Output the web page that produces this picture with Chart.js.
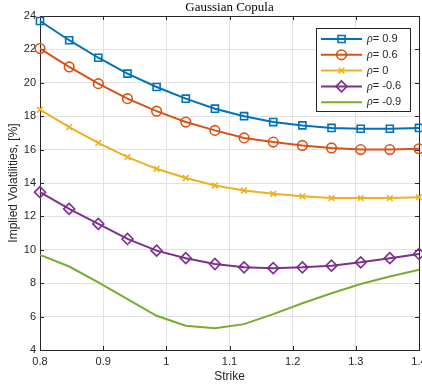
<!DOCTYPE html>
<html>
<head>
<meta charset="utf-8">
<script src="https://cdn.jsdelivr.net/npm/chart.js@4.4.0/dist/chart.umd.min.js"></script>
<style>
  html, body { margin: 0; padding: 0; background: #fff; overflow: hidden; }
</style>
</head>
<body>
<!-- canvas is a bit wider than the window so the last x label gets cut like in the original -->
<canvas id="chart" width="432" height="387"></canvas>
<script>
// strikes (x) and implied vols in % for each correlation
const strikes = [0.8, 0.8462, 0.8923, 0.9385, 0.9846, 1.0308, 1.0769, 1.1231, 1.1692, 1.2154, 1.2615, 1.3077, 1.3538, 1.4];
const volRho09  = [23.7, 22.55, 21.5, 20.55, 19.75, 19.05, 18.45, 18.0, 17.65, 17.45, 17.3, 17.25, 17.25, 17.3];
const volRho06  = [22.05, 20.95, 19.95, 19.05, 18.3, 17.65, 17.15, 16.7, 16.45, 16.25, 16.1, 16.0, 16.0, 16.05];
const volRho0   = [18.4, 17.35, 16.4, 15.55, 14.85, 14.3, 13.85, 13.55, 13.35, 13.2, 13.1, 13.1, 13.1, 13.15];
const volRhoM06 = [13.45, 12.45, 11.55, 10.65, 9.95, 9.5, 9.15, 8.95, 8.9, 8.95, 9.05, 9.25, 9.5, 9.75];
const volRhoM09 = [9.7, 9.0, 8.05, 7.05, 6.05, 5.45, 5.3, 5.55, 6.15, 6.8, 7.4, 7.95, 8.4, 8.8];
const rhoLabels = ['0.9', '0.6', '0', '-0.6', '-0.9'];
const xTicks = [0.8, 0.9, 1.0, 1.1, 1.2, 1.3, 1.4];
const yTicks = [4, 6, 8, 10, 12, 14, 16, 18, 20, 22, 24];

const series = [volRho09, volRho06, volRho0, volRhoM06, volRhoM09];
const colors = ['#0072BD', '#D95319', '#EDB120', '#7E2F8E', '#77AC30'];
const markers = ['rect', 'circle', 'crossRot', 'rectRot', false];
const markerSize = [5, 4.8, 4, 5.5, 0];
const axisColor = '#262626';
const gridColor = '#e1e1e1';
const sans = '"Liberation Sans", Arial, sans-serif';

const datasets = series.map((vals, i) => ({
    label: 'ρ= ' + rhoLabels[i],
    data: vals.map((v, k) => ({ x: strikes[k], y: v })),
    borderColor: colors[i],
    backgroundColor: 'rgba(255,255,255,0)',
    borderWidth: 2,
    pointStyle: markers[i] || 'circle',
    pointRadius: markerSize[i],
    pointBorderWidth: 1.6,
    pointBorderColor: colors[i],
    pointBackgroundColor: 'rgba(255,255,255,0)',
    tension: 0,
    clip: false
}));

const fmt = v => String(Number(v.toFixed(2)));

// box with inside ticks on all four sides, like matlab "box on"
const axesBox = {
    id: 'axesBox',
    beforeDatasetsDraw(chart) {
        const { ctx, chartArea: a, scales } = chart;
        ctx.save();
        ctx.strokeStyle = axisColor;
        ctx.lineWidth = 1;
        ctx.beginPath();
        xTicks.forEach(t => {
            const px = Math.round(scales.x.getPixelForValue(t)) + 0.5;
            ctx.moveTo(px, a.bottom); ctx.lineTo(px, a.bottom - 4);
            ctx.moveTo(px, a.top); ctx.lineTo(px, a.top + 4);
        });
        yTicks.forEach(t => {
            const py = Math.round(scales.y.getPixelForValue(t)) + 0.5;
            ctx.moveTo(a.left, py); ctx.lineTo(a.left + 4, py);
            ctx.moveTo(a.right, py); ctx.lineTo(a.right - 4, py);
        });
        ctx.stroke();
        ctx.strokeRect(Math.round(a.left) + 0.5, Math.round(a.top) + 0.5,
            Math.round(a.right - a.left), Math.round(a.bottom - a.top));
        ctx.restore();
    }
};

const titleAndLegend = {
    id: 'titleAndLegend',
    afterDraw(chart) {
        const { ctx, chartArea: a } = chart;
        ctx.save();
        // title
        ctx.fillStyle = '#000';
        ctx.font = '13px "Liberation Serif", "Times New Roman", serif';
        ctx.textAlign = 'center';
        ctx.textBaseline = 'middle';
        ctx.fillText('Gaussian Copula', (a.left + a.right) / 2, 8);

        // legend
        const bx = 316, by = 28, bw = 94, bh = 83;
        ctx.fillStyle = '#fff';
        ctx.fillRect(bx, by, bw, bh);
        ctx.strokeStyle = axisColor;
        ctx.lineWidth = 1;
        ctx.strokeRect(bx + 0.5, by + 0.5, bw, bh);
        chart.data.datasets.forEach((ds, i) => {
            const y = 39 + i * 15.8;
            ctx.strokeStyle = colors[i];
            ctx.lineWidth = 2;
            ctx.beginPath();
            ctx.moveTo(321, y); ctx.lineTo(362, y);
            ctx.stroke();
            if (markers[i] && Chart.helpers && Chart.helpers.drawPoint) {
                ctx.lineWidth = 1.6;
                ctx.fillStyle = 'rgba(255,255,255,0)';
                Chart.helpers.drawPoint(ctx, {
                    pointStyle: markers[i], radius: markerSize[i], rotation: 0, borderWidth: 1.6
                }, 341.5, y);
            }
            ctx.fillStyle = axisColor;
            ctx.textAlign = 'left';
            ctx.font = 'italic 12px "Liberation Serif", serif';
            ctx.fillText('ρ', 367, y);
            const w = ctx.measureText('ρ').width;
            ctx.font = '11px ' + sans;
            ctx.fillText('= ' + rhoLabels[i], 367 + w, y);
        });
        ctx.restore();
    }
};

new Chart(document.getElementById('chart'), {
    type: 'line',
    data: { datasets },
    plugins: [axesBox, titleAndLegend],
    options: {
        responsive: false,
        animation: false,
        devicePixelRatio: 1,
        layout: { padding: { top: 16, right: 13, left: 0, bottom: 0 } },
        plugins: { legend: { display: false }, tooltip: { enabled: false }, title: { display: false } },
        scales: {
            x: {
                type: 'linear',
                min: 0.8, max: 1.4,
                afterBuildTicks: s => { s.ticks = xTicks.map(v => ({ value: v })); },
                ticks: { font: { family: sans, size: 11 }, color: axisColor, padding: 5, maxRotation: 0, callback: fmt },
                grid: { color: gridColor, drawTicks: false },
                border: { display: false },
                title: { display: true, text: 'Strike', font: { family: sans, size: 12 }, color: axisColor, padding: { top: 0, bottom: 3 } },
                afterFit: s => { s.height = 37; }
            },
            y: {
                min: 4, max: 24,
                afterBuildTicks: s => { s.ticks = yTicks.map(v => ({ value: v })); },
                ticks: { font: { family: sans, size: 11 }, color: axisColor, padding: 4, callback: fmt },
                grid: { color: gridColor, drawTicks: false },
                border: { display: false },
                title: { display: true, text: 'Implied Volatilities, [%]', font: { family: sans, size: 12 }, color: axisColor, padding: { top: 6, bottom: 0 } },
                afterFit: s => { s.width = 40; s.paddingTop = 0; s.paddingBottom = 0; }
            }
        }
    }
});
</script>
</body>
</html>
